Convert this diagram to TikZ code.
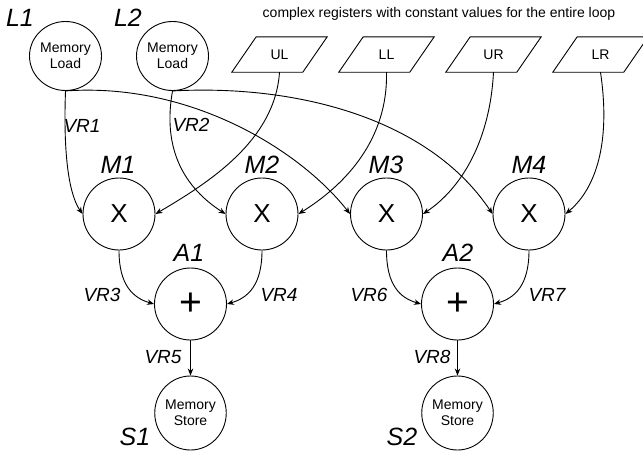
\documentclass[tikz,border=0pt]{standalone}
\usepackage{fontspec}
\setmainfont{Liberation Sans}
\usetikzlibrary{arrows.meta,shapes.geometric}
\begin{document}
\begin{tikzpicture}[x=1pt,y=-1pt,
  edge/.style={line width=0.9pt,-{Stealth[length=7pt,width=5.5pt]}},
  op/.style={circle,draw,line width=0.9pt,minimum size=72pt,inner sep=0pt,font=\fontsize{26}{30}\selectfont},
  addop/.style={op,font=\fontsize{39}{40}\selectfont},
  mem/.style={ellipse,draw,line width=0.9pt,minimum width=72pt,minimum height=69pt,inner sep=0pt,align=center,font=\fontsize{14}{16}\selectfont},
  store/.style={mem,minimum width=71pt,minimum height=74pt},
  constbox/.style={minimum width=95pt,minimum height=35pt,inner sep=0pt,font=\fontsize{14}{16}\selectfont},
  para/.style={line width=0.9pt},
  big/.style={font=\fontsize{25}{28}\selectfont\itshape,inner sep=0pt},
  vr/.style={font=\fontsize{19}{22}\selectfont\itshape,inner sep=0pt},
  title/.style={font=\fontsize{14}{16}\selectfont,inner sep=0pt},
]
\clip (0,0) rectangle (643,455);
\fill[white] (0,0) rectangle (643,455);

% title
\node[title] (title) at (439,14) {complex registers with constant values for the entire loop};

% memory loads
\node[mem] (L1) at (65.5,56) {Memory\\Load};
\node[mem] (L2) at (172.5,56) {Memory\\Load};
\node[big] (tL1) at (20,18) {L1};
\node[big] (tL2) at (128,18) {L2};

% constant registers
\node[constbox] (UL) at (279.5,54.5) {UL};
\node[constbox] (LL) at (386.5,54.5) {LL};
\node[constbox] (UR) at (493.5,54.5) {UR};
\node[constbox] (LR) at (600.5,54.5) {LR};
\foreach \n in {UL,LL,UR,LR}{
  \draw[para] (\n.south west) -- ++(71,0) -- (\n.north east) -- ++(-71,0) -- cycle;
}

% multipliers
\node[op] (M1) at (119,214) {X};
\node[op] (M2) at (262,214) {X};
\node[op] (M3) at (386.5,214) {X};
\node[op] (M4) at (529,214) {X};
\node[big] (tM1) at (118,165) {M1};
\node[big] (tM2) at (262,165) {M2};
\node[big] (tM3) at (386,165) {M3};
\node[big] (tM4) at (529,165) {M4};

% adders
\node[addop] (A1) at (190.5,304) {+};
\node[addop] (A2) at (457.5,304) {+};
\node[big] (tA1) at (189,253) {A1};
\node[big] (tA2) at (458,253) {A2};

% stores
\node[store] (S1) at (190.5,413) {Memory\\Store};
\node[store] (S2) at (457.5,413) {Memory\\Store};
\node[big] (tS1) at (135,437) {S1};
\node[big] (tS2) at (402,437) {S2};

% connectors
\draw[edge] (L1.south) .. controls (63,160) and (70,196) .. (M1.west);
\draw[edge] (L1.south) .. controls (190,82) and (300,150) .. (M3.west);
\draw[edge] (L2.south) .. controls (162,150) and (185,188) .. (M2.west);
\draw[edge] (L2.south) .. controls (300,84) and (430,120) .. (M4.west);
\draw[edge] (UL.south) .. controls (275,140) and (210,182) .. (M1.east);
\draw[edge] (LL.south) .. controls (388,140) and (345,185) .. (M2.east);
\draw[edge] (UR.south) .. controls (490,140) and (462,188) .. (M3.east);
\draw[edge] (LR.south) .. controls (612,150) and (592,192) .. (M4.east);
\draw[edge] (M1.south) .. controls (119,285) and (133,298) .. (A1.west);
\draw[edge] (M2.south) .. controls (262,285) and (248,298) .. (A1.east);
\draw[edge] (M3.south) .. controls (386.5,285) and (400,298) .. (A2.west);
\draw[edge] (M4.south) .. controls (529,285) and (515,298) .. (A2.east);
\draw[edge] (A1) -- (S1);
\draw[edge] (A2) -- (S2);

% register labels
\node[vr] (vr1) at (82,126) {VR1};
\node[vr] (vr2) at (191,125) {VR2};
\node[vr] (vr3) at (102,295) {VR3};
\node[vr] (vr4) at (279,295) {VR4};
\node[vr] (vr5) at (163,357) {VR5};
\node[vr] (vr6) at (369,295) {VR6};
\node[vr] (vr7) at (547,295) {VR7};
\node[vr] (vr8) at (432,357) {VR8};
\end{tikzpicture}
\end{document}
